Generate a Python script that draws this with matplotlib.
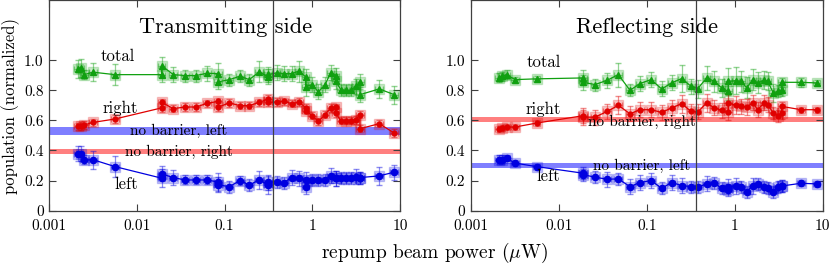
import numpy as np
import matplotlib
matplotlib.use('Agg')
import matplotlib.pyplot as plt

plt.rcParams['font.family'] = ['cmr10', 'DejaVu Serif']
plt.rcParams['mathtext.fontset'] = 'cm'
plt.rcParams['axes.formatter.use_mathtext'] = True

# transmitting side
x_t = np.array([0.00214, 0.00228, 0.00248, 0.00318, 0.0056, 0.0191, 0.0191, 0.026, 0.0353, 0.0471,
                0.063, 0.0848, 0.0848, 0.113, 0.150, 0.191, 0.248, 0.315, 0.315, 0.392,
                0.475, 0.581, 0.71, 0.84, 0.84, 1.0, 1.17, 1.40, 1.62, 1.85,
                1.85, 2.11, 2.40, 2.74, 3.13, 3.50, 3.50, 5.8, 8.6])
total_t = np.array([0.942, 0.949, 0.904, 0.92, 0.904, 0.904, 0.964, 0.904, 0.898, 0.898,
                    0.913, 0.911, 0.856, 0.871, 0.893, 0.871, 0.922, 0.889, 0.905, 0.916,
                    0.911, 0.911, 0.927, 0.889, 0.825, 0.838, 0.789, 0.838, 0.916, 0.898,
                    0.86, 0.805, 0.80, 0.80, 0.827, 0.856, 0.771, 0.809, 0.771])
right_t = np.array([0.56, 0.564, 0.569, 0.587, 0.609, 0.683, 0.72, 0.678, 0.689, 0.689,
                    0.713, 0.727, 0.689, 0.716, 0.698, 0.698, 0.72, 0.742, 0.72, 0.722,
                    0.727, 0.711, 0.722, 0.683, 0.665, 0.631, 0.593, 0.638, 0.683, 0.687,
                    0.649, 0.598, 0.598, 0.598, 0.604, 0.638, 0.545, 0.578, 0.516])
left_t = np.array([0.378, 0.378, 0.338, 0.338, 0.293, 0.216, 0.244, 0.22, 0.204, 0.204,
                   0.204, 0.19, 0.171, 0.16, 0.20, 0.171, 0.204, 0.171, 0.19, 0.193,
                   0.187, 0.22, 0.216, 0.205, 0.16, 0.203, 0.203, 0.205, 0.231, 0.216,
                   0.216, 0.216, 0.216, 0.216, 0.224, 0.22, 0.22, 0.231, 0.256])
total_t_err = np.array([0.06, 0.06, 0.03, 0.06, 0.07, 0.05, 0.06, 0.05, 0.04, 0.04,
                        0.05, 0.07, 0.05, 0.04, 0.04, 0.04, 0.07, 0.05, 0.05, 0.05,
                        0.05, 0.05, 0.07, 0.05, 0.06, 0.05, 0.05, 0.05, 0.05, 0.05,
                        0.05, 0.04, 0.04, 0.04, 0.05, 0.05, 0.05, 0.06, 0.06])
right_t_err = np.full(len(x_t), 0.025)
left_t_err = np.array([0.05, 0.05, 0.03, 0.06, 0.07, 0.06, 0.05, 0.05, 0.03, 0.03,
                       0.03, 0.06, 0.05, 0.04, 0.03, 0.04, 0.06, 0.06, 0.05, 0.04,
                       0.04, 0.05, 0.05, 0.05, 0.05, 0.04, 0.04, 0.04, 0.05, 0.05,
                       0.05, 0.04, 0.04, 0.04, 0.05, 0.04, 0.04, 0.06, 0.05])

# reflecting side
x_r = np.array([0.0021, 0.00225, 0.00256, 0.00319, 0.0056, 0.0189, 0.0189, 0.0259, 0.0357, 0.0476,
                0.0646, 0.084, 0.112, 0.148, 0.192, 0.25, 0.319, 0.38, 0.48, 0.586,
                0.711, 0.845, 0.845, 1.03, 1.18, 1.37, 1.60, 1.83, 2.17, 2.37,
                2.75, 3.13, 3.42, 3.42, 5.67, 8.55])
total_r = np.array([0.882, 0.893, 0.904, 0.871, 0.876, 0.882, 0.853, 0.838, 0.867, 0.904,
                    0.80, 0.845, 0.871, 0.809, 0.849, 0.878, 0.827, 0.811, 0.882, 0.86,
                    0.816, 0.793, 0.86, 0.864, 0.86, 0.816, 0.871, 0.849, 0.867, 0.86,
                    0.782, 0.793, 0.804, 0.853, 0.853, 0.849])
right_r = np.array([0.542, 0.551, 0.556, 0.556, 0.582, 0.631, 0.622, 0.622, 0.66, 0.70,
                    0.644, 0.671, 0.671, 0.653, 0.683, 0.711, 0.66, 0.656, 0.716, 0.683,
                    0.667, 0.653, 0.716, 0.70, 0.693, 0.689, 0.716, 0.671, 0.718, 0.704,
                    0.649, 0.631, 0.649, 0.693, 0.671, 0.671])
left_r = np.array([0.338, 0.338, 0.349, 0.316, 0.293, 0.249, 0.24, 0.222, 0.209, 0.211,
                   0.16, 0.187, 0.20, 0.149, 0.187, 0.167, 0.16, 0.156, 0.178, 0.182,
                   0.149, 0.138, 0.16, 0.164, 0.16, 0.127, 0.164, 0.178, 0.156, 0.153,
                   0.127, 0.16, 0.164, 0.164, 0.182, 0.178])
total_r_err = np.array([0.03, 0.03, 0.03, 0.02, 0.02, 0.05, 0.05, 0.04, 0.05, 0.08,
                        0.04, 0.05, 0.05, 0.05, 0.05, 0.09, 0.05, 0.06, 0.08, 0.07,
                        0.06, 0.06, 0.09, 0.09, 0.07, 0.07, 0.07, 0.07, 0.06, 0.06,
                        0.06, 0.04, 0.04, 0.03, 0.03, 0.02])
right_r_err = np.array([0.02, 0.02, 0.02, 0.02, 0.02, 0.05, 0.05, 0.05, 0.05, 0.06,
                        0.05, 0.05, 0.05, 0.05, 0.05, 0.06, 0.05, 0.05, 0.06, 0.05,
                        0.05, 0.05, 0.06, 0.06, 0.05, 0.05, 0.05, 0.05, 0.05, 0.05,
                        0.04, 0.04, 0.04, 0.03, 0.02, 0.02])
left_r_err = np.array([0.03, 0.03, 0.02, 0.02, 0.02, 0.04, 0.04, 0.04, 0.05, 0.04,
                       0.05, 0.05, 0.05, 0.04, 0.05, 0.05, 0.04, 0.04, 0.05, 0.04,
                       0.04, 0.04, 0.05, 0.05, 0.04, 0.04, 0.05, 0.04, 0.04, 0.04,
                       0.04, 0.04, 0.04, 0.04, 0.02, 0.02])

# "no barrier" reference bands: (centre, half width)
band_t = {'left': (0.529, 0.025), 'right': (0.393, 0.015)}
band_r = {'left': (0.301, 0.019), 'right': (0.607, 0.015)}

xticks = [0.001, 0.01, 0.1, 1, 10]
xtick_labels = ['0.001', '0.01', '0.1', '1', '10']
yticks = [0, 0.2, 0.4, 0.6, 0.8, 1.0]
ytick_labels = ['0', '0.2', '0.4', '0.6', '0.8', '1.0']

green = '#10a010'
red = '#e00000'
blue = '#0000e0'
frame = '#404040'


def draw_series(ax, x, y, yerr, color, marker, ms):
    ax.errorbar(x, y, xerr=0.1 * x, yerr=yerr, fmt='none', ecolor=color,
                alpha=0.45, elinewidth=0.9, capsize=2.5, zorder=2)
    ax.plot(x, y, 's', color=color, alpha=0.22, ms=7, zorder=2)
    ax.plot(x, y, '-', marker=marker, color=color, ms=ms, lw=0.9, zorder=3)


def draw_panel(ax, x, tot, rgt, lft, etot, ergt, elft, bands, title, title_x, labels):
    ax.axhspan(bands['left'][0] - bands['left'][1], bands['left'][0] + bands['left'][1],
               color='#0000ff', alpha=0.5, lw=0, zorder=1)
    ax.axhspan(bands['right'][0] - bands['right'][1], bands['right'][0] + bands['right'][1],
               color='#ff0000', alpha=0.5, lw=0, zorder=1)
    draw_series(ax, x, tot, etot, green, '^', 4)
    draw_series(ax, x, rgt, ergt, red, 'o', 3.5)
    draw_series(ax, x, lft, elft, blue, 'o', 4.5)
    ax.axvline(0.36, color=frame, lw=0.9, zorder=4)

    ax.set_xscale('log')
    ax.set_xlim(0.001, 10)
    ax.set_ylim(0, 1.4)
    ax.set_xticks(xticks)
    ax.set_xticklabels(xtick_labels)
    ax.minorticks_off()
    ax.set_yticks(yticks)
    ax.set_yticklabels(ytick_labels)
    ax.tick_params(direction='in', top=True, right=True, length=5, width=0.8,
                   color=frame, labelsize=11)
    ax.tick_params(axis='x', pad=6)
    ax.tick_params(axis='y', pad=4)
    for s in ax.spines.values():
        s.set_color(frame)
        s.set_linewidth(0.9)

    ax.text(title_x, 1.216, title, fontsize=16, ha='center', va='center', zorder=5)
    for txt, (tx, ty, fs) in labels.items():
        ax.text(tx, ty, txt, fontsize=fs, ha='center', va='center', zorder=5)


fig = plt.figure(figsize=(8.3, 2.64), dpi=100)
ax1 = fig.add_axes([0.0594, 0.202, 0.4225, 0.798])
ax2 = fig.add_axes([0.5671, 0.202, 0.4241, 0.798])

draw_panel(ax1, x_t, total_t, right_t, left_t, total_t_err, right_t_err, left_t_err,
           band_t, 'Transmitting side', 0.103,
           {'total': (0.0060, 1.027, 12), 'right': (0.0065, 0.678, 12), 'left': (0.0075, 0.178, 12),
            'no barrier, left': (0.030, 0.527, 11), 'no barrier, right': (0.030, 0.393, 11)})
draw_panel(ax2, x_r, total_r, right_r, left_r, total_r_err, right_r_err, left_r_err,
           band_r, 'Reflecting side', 0.100,
           {'total': (0.0067, 0.983, 12), 'right': (0.0066, 0.676, 12), 'left': (0.0076, 0.227, 12),
            'no barrier, right': (0.0885, 0.587, 11), 'no barrier, left': (0.0885, 0.30, 11)})

fig.text(11 / 830, 1 - 106 / 264, 'population (normalized)', fontsize=12,
         rotation=90, ha='center', va='center')
fig.text(434.5 / 830, 1 - 253 / 264, r'repump beam power ($\mu$W)', fontsize=14,
         ha='center', va='center')

fig.savefig('out.png', dpi=100)
